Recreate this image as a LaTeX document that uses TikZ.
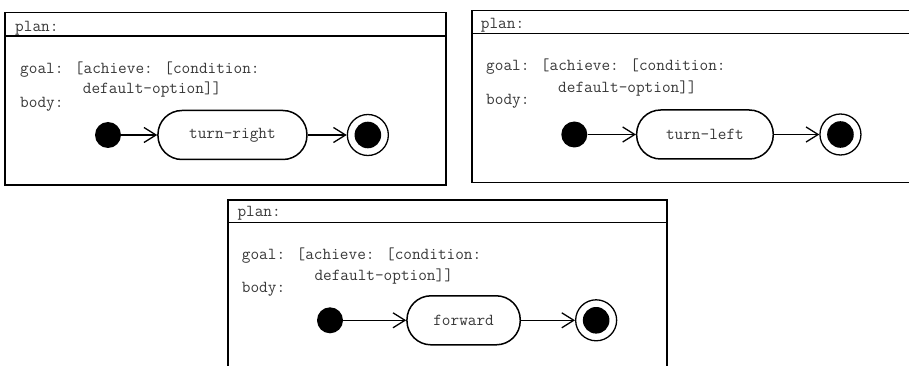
\documentclass[tikz,border=0pt]{standalone}
\usepackage{fontspec}
\usetikzlibrary{positioning,arrows.meta}

\begin{document}
\begin{tikzpicture}[
    x=1pt, y=-1pt,
    every node/.style={font=\ttfamily\fontsize{16.8}{19}\selectfont, text=black!78},
    frame/.style={draw, line width=1.5pt, anchor=north west, inner sep=0pt},
    codeline/.style={anchor=base west, inner sep=0pt},
    startdot/.style={circle, fill=black, minimum size=26pt, inner sep=0pt},
    enddot/.style={circle, draw, line width=1.3pt, minimum size=41pt, inner sep=0pt},
    action/.style={draw, line width=1.5pt, rounded corners=24pt, minimum height=49pt, inner sep=0pt},
    flow/.style={line width=1.3pt, -{Straight Barb[length=12pt,width=15pt]}}
]
\useasboundingbox (0,0) rectangle (909,366);
\clip (0,0) rectangle (909,366);

% Rahmen oben links
\node[frame, minimum width=441pt, minimum height=172pt] (planA) at (4,12) {};
\draw[line width=1.5pt] ([shift={(0,24)}]planA.north west) -- ([shift={(0,24)}]planA.north east);
\node[codeline] (headA) at ([shift={(11,19.7)}]planA.north west) {plan:};
\node[codeline] (goalA) at ([shift={(16,62)}]planA.north west) {goal: [achieve: [condition:};
\node[codeline] (optA) at ([shift={(78.7,81.3)}]planA.north west) {default-option]]};
\node[codeline] (bodyA) at ([shift={(16,95.3)}]planA.north west) {body:};
\node[startdot] (startA) at (108,135) {};
\node[action, minimum width=149pt, right=36pt of startA] (actA) {turn-right};
\node[enddot, right=39pt of actA] (endA) {};
\fill (endA.center) circle[radius=13.3];
\draw[flow] (startA) -- (actA);
\draw[flow] (actA) -- (endA);

% Rahmen oben rechts
\node[frame, minimum width=444pt, minimum height=171.7pt] (planB) at (471,10) {};
\draw[line width=1.5pt] ([shift={(0,23.3)}]planB.north west) -- ([shift={(0,23.3)}]planB.north east);
\node[codeline] (headB) at ([shift={(9.7,18.3)}]planB.north west) {plan:};
\node[codeline] (goalB) at ([shift={(15,60.7)}]planB.north west) {goal: [achieve: [condition:};
\node[codeline] (optB) at ([shift={(87,82.7)}]planB.north west) {default-option]]};
\node[codeline] (bodyB) at ([shift={(15,95)}]planB.north west) {body:};
\node[startdot] (startB) at (574.3,134.5) {};
\node[action, minimum width=136.6pt, right=48.4pt of startB] (actB) {turn-left};
\node[enddot, right=45.3pt of actB] (endB) {};
\fill (endB.center) circle[radius=13.3];
\draw[flow] (startB) -- (actB);
\draw[flow] (actB) -- (endB);

% Rahmen unten
\node[frame, minimum width=438.7pt, minimum height=180pt] (planC) at (227.3,199) {};
\draw[line width=1.5pt] ([shift={(0,23.7)}]planC.north west) -- ([shift={(0,23.7)}]planC.north east);
\node[codeline] (headC) at ([shift={(10,17.7)}]planC.north west) {plan:};
\node[codeline] (goalC) at ([shift={(14.4,60)}]planC.north west) {goal: [achieve: [condition:};
\node[codeline] (optC) at ([shift={(87,81.7)}]planC.north west) {default-option]]};
\node[codeline] (bodyC) at ([shift={(14.4,93.7)}]planC.north west) {body:};
\node[startdot] (startC) at (330,320.3) {};
\node[action, minimum width=113.3pt, right=63pt of startC] (actC) {forward};
\node[enddot, right=54pt of actC] (endC) {};
\fill (endC.center) circle[radius=13.3];
\draw[flow] (startC) -- (actC);
\draw[flow] (actC) -- (endC);

\end{tikzpicture}
\end{document}
